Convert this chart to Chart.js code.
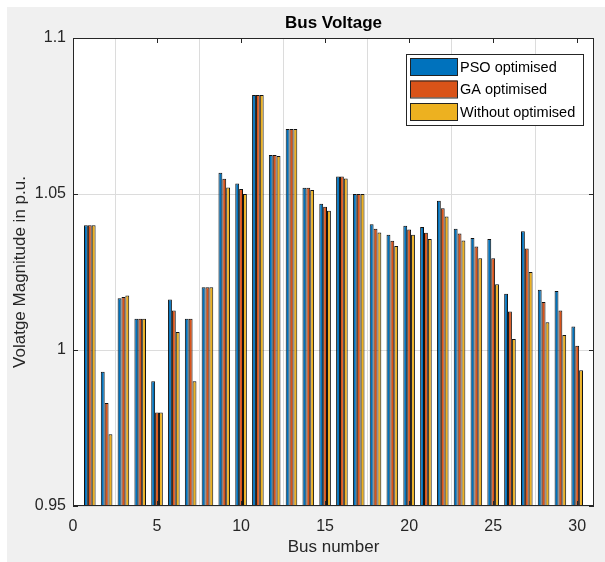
<!DOCTYPE html>
<html>
<head>
<meta charset="utf-8">
<script src="https://cdn.jsdelivr.net/npm/chart.js@4.4.1/dist/chart.umd.min.js"></script>
<style>
  body { margin: 0; background: #ffffff; }
  #wrap { position: absolute; left: 0; top: 0; width: 605px; height: 562px; }
</style>
</head>
<body>
<div id="wrap"><canvas id="myChart" width="605" height="562"></canvas></div>
<script>
var buses = [1, 2, 3, 4, 5, 6, 7, 8, 9, 10, 11, 12, 13, 14, 15, 16, 17, 18, 19, 20, 21, 22, 23, 24, 25, 26, 27, 28, 29, 30];
var psoValues = [1.040, 0.993, 1.0166, 1.010, 0.990, 1.0162, 1.010, 1.0201, 1.0568, 1.0534, 1.0817, 1.0625, 1.0708, 1.052, 1.0469, 1.0556, 1.050, 1.0403, 1.0369, 1.0398, 1.0394, 1.0478, 1.0389, 1.0359, 1.0356, 1.018, 1.0381, 1.0193, 1.0189, 1.0075];
var gaValues = [1.040, 0.983, 1.017, 1.010, 0.980, 1.0127, 1.010, 1.0201, 1.0549, 1.0516, 1.0817, 1.0625, 1.0708, 1.052, 1.0459, 1.0556, 1.050, 1.0389, 1.035, 1.0386, 1.0376, 1.0454, 1.0373, 1.0332, 1.0294, 1.0123, 1.0325, 1.0154, 1.0127, 1.0014];
var withoutValues = [1.040, 0.973, 1.0175, 1.010, 0.980, 1.0058, 0.990, 1.0201, 1.0521, 1.050, 1.0817, 1.0622, 1.0708, 1.0513, 1.0446, 1.055, 1.050, 1.0377, 1.0333, 1.0369, 1.0356, 1.0428, 1.0351, 1.0294, 1.0211, 1.0035, 1.025, 1.0089, 1.0048, 0.9935];
var seriesNames = ['PSO optimised', 'GA optimised', 'Without optimised'];
var yTicks = [0.95, 1, 1.05, 1.1];

function points(values) {
    return values.map(function(v, i) { return { x: buses[i], y: v }; });
}

var fontName = "'Liberation Sans', Arial, sans-serif";
var axisColor = '#262626';

// figure background, white axes box, border, inward ticks, legend
var frame = {
    id: 'frame',
    beforeDraw: function(chart) {
        var ctx = chart.ctx, a = chart.chartArea;
        ctx.save();
        ctx.fillStyle = '#f0f0f0';
        ctx.fillRect(7, 7, chart.width - 7, chart.height - 7);
        ctx.fillStyle = '#ffffff';
        ctx.fillRect(a.left, a.top, a.right - a.left, a.bottom - a.top);
        ctx.restore();
    },
    afterDatasetsDraw: function(chart) {
        var ctx = chart.ctx, a = chart.chartArea;
        var xs = chart.scales.x, ys = chart.scales.y;
        ctx.save();
        ctx.strokeStyle = axisColor;
        ctx.lineWidth = 1;
        ctx.strokeRect(a.left + 0.5, a.top + 0.5, a.right - a.left - 1, a.bottom - a.top - 1);
        ctx.beginPath();
        for (var t = 0; t <= 30; t += 5) {
            var px = Math.round(xs.getPixelForValue(t)) + 0.5;
            ctx.moveTo(px, a.bottom); ctx.lineTo(px, a.bottom - 5);
            ctx.moveTo(px, a.top); ctx.lineTo(px, a.top + 5);
        }
        yTicks.forEach(function(v) {
            var py = Math.round(ys.getPixelForValue(v)) + 0.5;
            ctx.moveTo(a.left, py); ctx.lineTo(a.left + 5, py);
            ctx.moveTo(a.right, py); ctx.lineTo(a.right - 5, py);
        });
        ctx.stroke();
        ctx.restore();
    },
    afterDraw: function(chart) {
        var ctx = chart.ctx, a = chart.chartArea;
        var boxW = 177, boxH = 71;
        var bx = a.right - 11 - boxW, by = a.top + 16;
        ctx.save();
        ctx.fillStyle = '#ffffff';
        ctx.fillRect(bx, by, boxW, boxH);
        ctx.strokeStyle = axisColor;
        ctx.lineWidth = 1;
        ctx.strokeRect(bx + 0.5, by + 0.5, boxW, boxH);
        ctx.font = '14.5px ' + fontName;
        ctx.textBaseline = 'middle';
        chart.data.datasets.forEach(function(ds, i) {
            var sy = by + 4 + i * 22.5;
            ctx.fillStyle = ds.backgroundColor;
            ctx.fillRect(bx + 4, sy, 47, 17);
            ctx.strokeStyle = '#222222';
            ctx.strokeRect(bx + 4.5, sy + 0.5, 47, 17);
            ctx.fillStyle = '#000000';
            ctx.fillText(ds.label, bx + 54, sy + 9.5);
        });
        ctx.restore();
    }
};

var ctx = document.getElementById('myChart');
var myChart = new Chart(ctx, {
    type: 'bar',
    data: {
        datasets: [{
            label: seriesNames[0],
            data: points(psoValues),
            backgroundColor: '#0072BD',
            borderColor: '#111111',
            borderWidth: 1,
            base: 0.95
        }, {
            label: seriesNames[1],
            data: points(gaValues),
            backgroundColor: '#D95319',
            borderColor: '#111111',
            borderWidth: 1,
            base: 0.95
        }, {
            label: seriesNames[2],
            data: points(withoutValues),
            backgroundColor: '#EDB120',
            borderColor: '#111111',
            borderWidth: 1,
            base: 0.95
        }]
    },
    options: {
        responsive: false,
        animation: false,
        categoryPercentage: 0.69,
        barPercentage: 1.0,
        layout: { padding: { left: 0, right: 11, top: 0, bottom: 0 } },
        plugins: {
            legend: { display: false },
            tooltip: { enabled: false },
            title: {
                display: true,
                fullSize: false,
                text: 'Bus Voltage',
                color: '#000000',
                font: { family: fontName, size: 17, weight: 'bold' },
                padding: { top: 13, bottom: 4.6 }
            }
        },
        scales: {
            x: {
                type: 'linear',
                min: 0,
                max: 31,
                offset: false,
                grid: { color: '#dcdcdc', drawTicks: false },
                border: { display: false },
                ticks: {
                    stepSize: 5,
                    includeBounds: false,
                    autoSkip: false,
                    maxRotation: 0,
                    padding: 11,
                    color: axisColor,
                    font: { family: fontName, size: 16 }
                },
                title: {
                    display: true,
                    text: 'Bus number',
                    color: axisColor,
                    font: { family: fontName, size: 17 },
                    padding: { top: 0, bottom: 4 }
                },
                afterFit: function(scale) { scale.height = 56; }
            },
            y: {
                min: 0.95,
                max: 1.1,
                grid: { color: '#dcdcdc', drawTicks: false },
                border: { display: false },
                afterBuildTicks: function(scale) {
                    scale.ticks = yTicks.map(function(v) { return { value: v }; });
                },
                ticks: {
                    padding: 7,
                    color: axisColor,
                    font: { family: fontName, size: 16 },
                    callback: function(value) { return String(Number(value.toFixed(2))); }
                },
                title: {
                    display: true,
                    text: 'Volatge Magnitude in p.u.',
                    color: axisColor,
                    font: { family: fontName, size: 17 },
                    padding: { top: 10, bottom: 0 }
                },
                afterFit: function(scale) { scale.width = 73; }
            }
        }
    },
    plugins: [frame]
});
</script>
</body>
</html>
